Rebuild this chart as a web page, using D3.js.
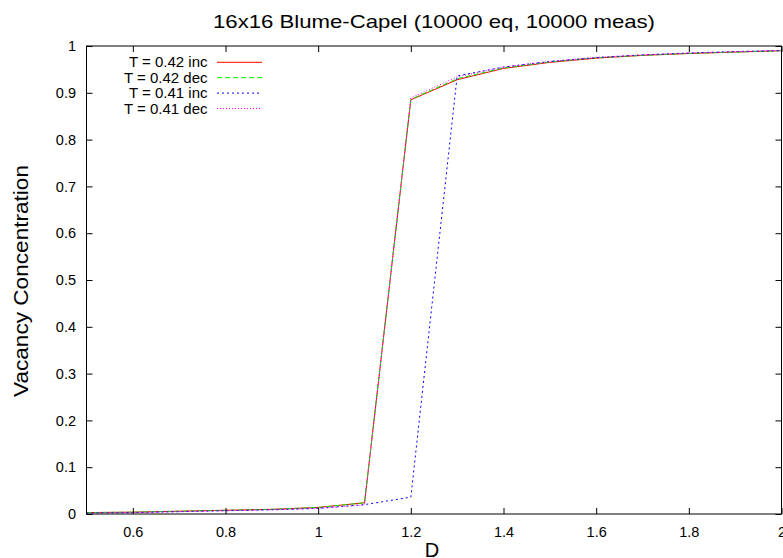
<!DOCTYPE html>
<html>
<head>
<meta charset="utf-8">
<script src="https://cdn.jsdelivr.net/npm/d3@7"></script>
<style>
  body { margin: 0; background: #fff; }
  svg text { font-family: "Liberation Sans", Arial, sans-serif; fill: #000; }
</style>
</head>
<body>
<div id="chart"></div>
<script>
// data
var dValues = [0.5, 0.6, 0.7, 0.8, 0.9, 1.0, 1.1, 1.2, 1.3, 1.4, 1.5, 1.6, 1.7, 1.8, 1.9, 2.0];
var t042inc = [0.003, 0.004, 0.006, 0.008, 0.010, 0.014, 0.024, 0.885, 0.928, 0.952, 0.965, 0.974, 0.980, 0.984, 0.987, 0.990];
var t042dec = [0.003, 0.004, 0.006, 0.008, 0.010, 0.014, 0.024, 0.886, 0.930, 0.953, 0.966, 0.975, 0.980, 0.984, 0.987, 0.990];
var t041inc = [0.002, 0.003, 0.005, 0.007, 0.009, 0.012, 0.020, 0.036, 0.936, 0.955, 0.967, 0.975, 0.981, 0.985, 0.988, 0.990];
var t041dec = [0.002, 0.003, 0.005, 0.007, 0.009, 0.012, 0.019, 0.889, 0.934, 0.955, 0.967, 0.976, 0.981, 0.985, 0.988, 0.991];
var seriesNames = ["T = 0.42 inc", "T = 0.42 dec", "T = 0.41 inc", "T = 0.41 dec"];
var xTicks = [0.6, 0.8, 1, 1.2, 1.4, 1.6, 1.8, 2];
var yTicks = [0, 0.1, 0.2, 0.3, 0.4, 0.5, 0.6, 0.7, 0.8, 0.9, 1];

var width = 783, height = 558;
var margin = { top: 46, right: 1.5, bottom: 44, left: 86.5 };

var series = [
  { name: seriesNames[0], values: t042inc, color: "#ff0000", dash: null },
  { name: seriesNames[1], values: t042dec, color: "#00ee00", dash: "5,3" },
  { name: seriesNames[2], values: t041inc, color: "#0000ff", dash: "2,3" },
  { name: seriesNames[3], values: t041dec, color: "#ff00ff", dash: "1,2" }
];

var x = d3.scaleLinear().domain([0.5, 2]).range([margin.left, width - margin.right]);
var y = d3.scaleLinear().domain([0, 1]).range([height - margin.bottom, margin.top]);

var svg = d3.select("#chart").append("svg")
  .attr("width", width)
  .attr("height", height);

// lines
var line = d3.line()
  .x(function (d, i) { return x(dValues[i]); })
  .y(function (d) { return y(d); });

svg.append("g").selectAll("path")
  .data(series)
  .enter()
  .append("path")
  .attr("d", function (s) { return line(s.values); })
  .attr("fill", "none")
  .attr("stroke", function (s) { return s.color; })
  .attr("stroke-width", 1)
  .attr("stroke-dasharray", function (s) { return s.dash; });

// axes: gnuplot-style inward ticks, mirrored
svg.append("g")
  .attr("transform", "translate(0," + y(0) + ")")
  .call(d3.axisBottom(x).tickValues(xTicks).tickSizeInner(-6).tickSizeOuter(0).tickPadding(13)
    .tickFormat(d3.format("~g")))
  .call(function (g) { g.select(".domain").remove(); })
  .selectAll("text").attr("font-size", 14.5);

svg.append("g")
  .attr("transform", "translate(0," + y(1) + ")")
  .call(d3.axisTop(x).tickValues(xTicks).tickSizeInner(-6).tickSizeOuter(0).tickFormat(""))
  .call(function (g) { g.select(".domain").remove(); });

svg.append("g")
  .attr("transform", "translate(" + x(0.5) + ",0)")
  .call(d3.axisLeft(y).tickValues(yTicks).tickSizeInner(-6).tickSizeOuter(0).tickPadding(10.5)
    .tickFormat(d3.format("~g")))
  .call(function (g) { g.select(".domain").remove(); })
  .selectAll("text").attr("font-size", 14.5);

svg.append("g")
  .attr("transform", "translate(" + x(2) + ",0)")
  .call(d3.axisRight(y).tickValues(yTicks).tickSizeInner(-6).tickSizeOuter(0).tickFormat(""))
  .call(function (g) { g.select(".domain").remove(); });

svg.selectAll(".tick line").attr("stroke", "#000");

// frame
svg.append("rect")
  .attr("x", x(0.5))
  .attr("y", y(1))
  .attr("width", x(2) - x(0.5))
  .attr("height", y(0) - y(1))
  .attr("fill", "none")
  .attr("stroke", "#000")
  .attr("stroke-width", 1);

// legend
var legend = svg.append("g").selectAll("g")
  .data(series)
  .enter()
  .append("g")
  .attr("transform", function (d, i) { return "translate(0," + (62.3 + i * 15.4) + ")"; });

legend.append("text")
  .attr("x", 207.5)
  .attr("y", 5)
  .attr("text-anchor", "end")
  .attr("font-size", 15)
  .text(function (d) { return d.name; });

legend.append("line")
  .attr("x1", 217)
  .attr("x2", 262)
  .attr("stroke", function (d) { return d.color; })
  .attr("stroke-width", 1)
  .attr("stroke-dasharray", function (d) { return d.dash; });

// titles
svg.append("text")
  .attr("x", 434)
  .attr("y", 28)
  .attr("text-anchor", "middle")
  .attr("font-size", 19)
  .attr("textLength", 442)
  .attr("lengthAdjust", "spacingAndGlyphs")
  .text("16x16 Blume-Capel (10000 eq, 10000 meas)");

svg.append("text")
  .attr("transform", "translate(28,281) rotate(-90)")
  .attr("text-anchor", "middle")
  .attr("font-size", 21)
  .attr("textLength", 232)
  .attr("lengthAdjust", "spacingAndGlyphs")
  .text("Vacancy Concentration");

svg.append("text")
  .attr("x", 432)
  .attr("y", 557)
  .attr("text-anchor", "middle")
  .attr("font-size", 20)
  .text("D");
</script>
</body>
</html>
